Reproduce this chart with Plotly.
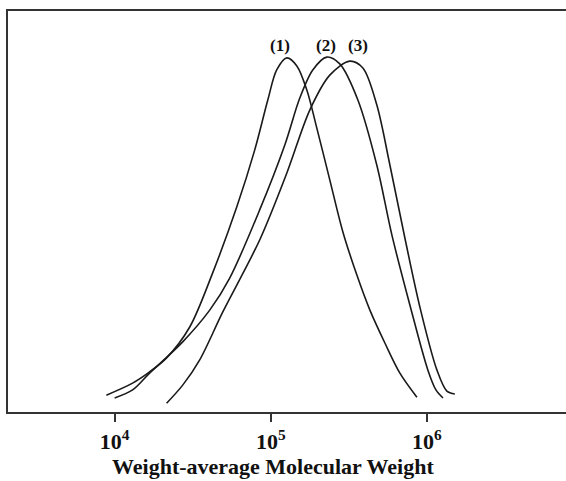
import plotly.graph_objects as go

# log10(molecular weight) and normalized signal
logM_1 = [3.947, 4.115, 4.224, 4.333, 4.481, 4.628, 4.782, 4.897, 4.981, 5.038, 5.103,
          5.167, 5.231, 5.295, 5.378, 5.462, 5.551, 5.635, 5.731, 5.827, 5.936]
sig_1 = [4.2, 7.2, 10.0, 13.5, 21.2, 34.7, 51.1, 65.3, 77.8, 85.3, 88.3,
         86.3, 80.3, 70.8, 57.9, 44.9, 34.2, 25.4, 17.2, 9.7, 3.7]

logM_2 = [4.0, 4.115, 4.224, 4.436, 4.609, 4.737, 4.929, 5.090, 5.186, 5.269, 5.359,
          5.442, 5.558, 5.679, 5.776, 5.891, 6.006, 6.058, 6.103]
sig_2 = [3.5, 5.5, 9.7, 17.5, 25.4, 33.4, 50.4, 66.6, 78.3, 85.3, 88.5,
         86.8, 77.8, 61.6, 44.1, 26.7, 10.5, 5.5, 3.5]

logM_3 = [4.333, 4.436, 4.545, 4.692, 4.929, 5.103, 5.25, 5.378, 5.506,
          5.590, 5.679, 5.763, 5.859, 5.955, 6.064, 6.128, 6.179]
sig_3 = [2.2, 6.7, 13.0, 24.9, 42.9, 59.6, 75.3, 84.0, 87.5,
         85.8, 76.6, 61.6, 43.4, 26.2, 10.5, 5.2, 4.5]

series_labels = ["(1)", "(2)", "(3)"]
label_logM = [5.058, 5.353, 5.558]
label_sig = [91.5, 91.5, 91.5]

tick_vals = [1e4, 1e5, 1e6]
tick_text = ["10<sup>4</sup>", "10<sup>5</sup>", "10<sup>6</sup>"]
x_title = "Weight-average Molecular Weight"

FONT = "Liberation Serif, Times New Roman, serif"
LINE = "#1a1a1a"

fig = go.Figure()
for lm, s in [(logM_1, sig_1), (logM_2, sig_2), (logM_3, sig_3)]:
    fig.add_trace(go.Scatter(
        x=[10 ** v for v in lm], y=s, mode="lines",
        line=dict(color=LINE, width=1.6, shape="spline", smoothing=0.9),
        showlegend=False, hoverinfo="skip"))

for t, xl, yl in zip(series_labels, label_logM, label_sig):
    fig.add_annotation(x=xl, y=yl, text="<b>%s</b>" % t, showarrow=False,
                       font=dict(family=FONT, size=17, color="#111"),
                       xanchor="center", yanchor="middle")

fig.add_annotation(x=(273 - 8) / 558, y=-0.135, xref="paper", yref="paper",
                   text="<b>%s</b>" % x_title, showarrow=False,
                   xanchor="center", yanchor="middle",
                   font=dict(family=FONT, size=22, color="#111"))

fig.update_layout(
    width=566, height=481,
    margin=dict(l=8, r=0, t=11, b=69),
    paper_bgcolor="white", plot_bgcolor="white",
    xaxis=dict(
        type="log", range=[3.317, 6.891],
        showgrid=False, zeroline=False,
        showline=True, linecolor="#333", linewidth=2, mirror=True,
        ticks="outside", ticklen=8, tickwidth=1.5, tickcolor="#333",
        tickvals=tick_vals, ticktext=[("<b>%s</b>" % t) for t in tick_text],
        tickfont=dict(family=FONT, size=22, color="#111"),
        ticklabelstandoff=1,
    ),
    yaxis=dict(
        range=[0, 100], showgrid=False, zeroline=False,
        showline=True, linecolor="#333", linewidth=2, mirror=False,
        showticklabels=False, ticks="",
    ),
)

fig.write_html(
    "out.html",
    config={"displayModeBar": False},
    post_script="document.body.style.margin='0';document.body.style.overflow='hidden';",
)
